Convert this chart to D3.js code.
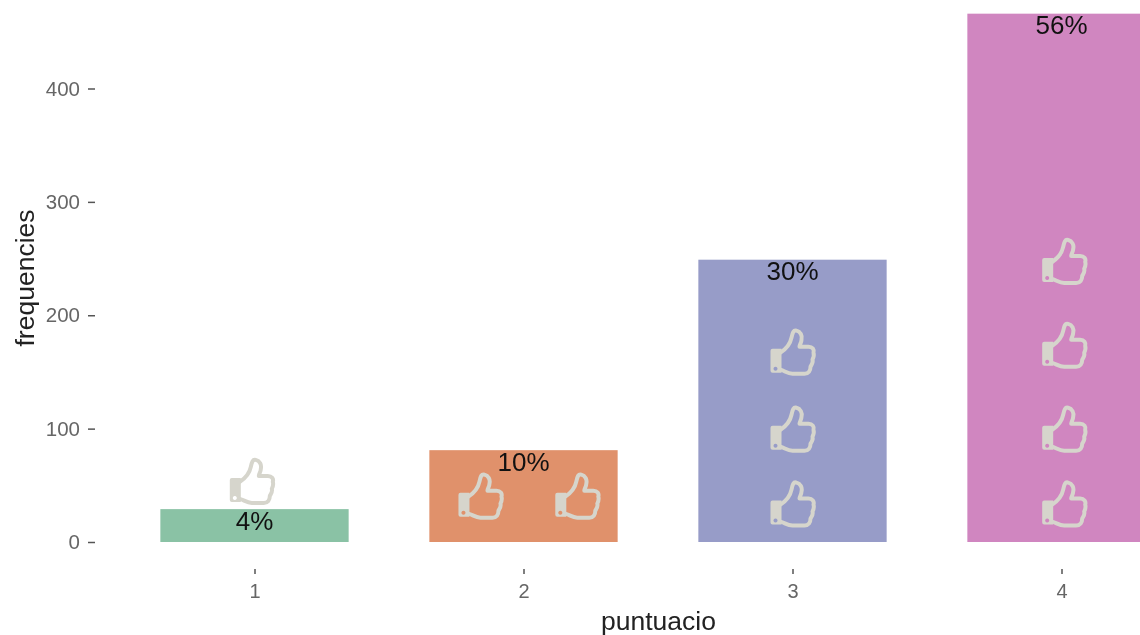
<!DOCTYPE html>
<html>
<head>
<meta charset="utf-8">
<script src="https://cdn.jsdelivr.net/npm/d3@7"></script>
<style>
    html, body { margin: 0; padding: 0; background: #fff; }
    svg { display: block; filter: blur(0.5px); }
    text { font-family: "Liberation Sans", Arial, sans-serif; }
</style>
</head>
<body>
<div id="chart"></div>
<script>
// Bars
const puntuacio = [1, 2, 3, 4];
const frequencies = [29, 81, 249, 466];
const percents = ['4%', '10%', '30%', '56%'];
const barColors = ['#8ac2a5', '#e0916b', '#979cc8', '#d086c0'];

// Thumb icons, in chart units
const thumbX = [0.99, 1.84, 2.2, 3, 3, 3, 4.01, 4.01, 4.01, 4.01];
const thumbY = [53, 40, 40, 167, 99, 33, 247, 173, 99, 33];

const yTicks = [0, 100, 200, 300, 400];

const width = 1140;
const height = 635;

const x = d3.scaleLinear().domain([1, 4]).range([254.5, 1061.5]);
const y = d3.scaleLinear().domain([0, 400]).range([542, 88.5]);
const barWidth = 0.7;

const svg = d3.select('#chart')
    .append('svg')
    .attr('width', width)
    .attr('height', height);

svg.selectAll('.bar')
    .data(puntuacio)
    .enter().append('rect')
    .attr('class', 'bar')
    .attr('x', d => x(d - barWidth / 2))
    .attr('y', (d, i) => y(frequencies[i]))
    .attr('width', x(1 + barWidth) - x(1))
    .attr('height', (d, i) => y(0) - y(frequencies[i]))
    .attr('fill', (d, i) => barColors[i]);

// Thumb outline plus cuff, drawn around 0,0. Hole in the cuff is evenodd
const thumbOutline = 'M-12,0 C-6,-4 -2,-10 -1,-15 C0,-20 1,-23 4,-22 C8,-21 10,-17 9,-13 C9,-10 7,-8 7,-6 L16,-6 C20,-6 22,-3 21,0 C22,3 21,5 20,7 C21,10 19,12 18,14 C18,18 16,21 12,21 L0,21 C-5,21 -8,18 -12,17';
const thumbCuff = 'M-20,-4 L-11,-4 L-11,20 L-20,20 Q-22,20 -22,18 L-22,-2 Q-22,-4 -20,-4 Z M-17,14 a2,2 0 1,0 0.01,0 Z';

const thumbs = svg.selectAll('.thumb')
    .data(thumbX)
    .enter().append('g')
    .attr('class', 'thumb')
    .attr('transform', (d, i) => `translate(${x(d)},${y(thumbY[i])})`);

thumbs.append('path')
    .attr('d', thumbOutline)
    .attr('fill', 'none')
    .attr('stroke', '#d6d5cc')
    .attr('stroke-width', 4)
    .attr('stroke-linecap', 'round')
    .attr('stroke-linejoin', 'round');

thumbs.append('path')
    .attr('d', thumbCuff)
    .attr('fill', '#d6d5cc')
    .attr('fill-rule', 'evenodd');

svg.selectAll('.pct')
    .data(percents)
    .enter().append('text')
    .attr('class', 'pct')
    .attr('x', (d, i) => x(puntuacio[i]))
    .attr('y', (d, i) => y(frequencies[i] - 10))
    .attr('dy', '0.36em')
    .attr('text-anchor', 'middle')
    .attr('font-size', 26)
    .attr('fill', '#111')
    .text(d => d);

// Axes
const yAxis = d3.axisLeft(y).tickValues(yTicks).tickSize(7).tickPadding(8);
svg.append('g')
    .attr('transform', 'translate(95,0)')
    .call(yAxis)
    .call(g => g.select('.domain').remove())
    .call(g => g.selectAll('.tick line').attr('stroke', '#555').attr('stroke-width', 1.5))
    .call(g => g.selectAll('.tick text').attr('font-size', 20.5).attr('fill', '#666').style('font-family', '"Liberation Sans", Arial, sans-serif'));

const xAxis = d3.axisBottom(x).tickValues(puntuacio).tickFormat(d3.format('d')).tickSize(5).tickPadding(10);
svg.append('g')
    .attr('transform', 'translate(0,569)')
    .call(xAxis)
    .call(g => g.select('.domain').remove())
    .call(g => g.selectAll('.tick line').attr('stroke', '#555').attr('stroke-width', 1.5))
    .call(g => g.selectAll('.tick text').attr('font-size', 20).attr('fill', '#666').style('font-family', '"Liberation Sans", Arial, sans-serif'));

svg.append('text')
    .attr('x', 658.5)
    .attr('y', 630)
    .attr('text-anchor', 'middle')
    .attr('font-size', 26.5)
    .attr('fill', '#222')
    .text('puntuacio');

svg.append('text')
    .attr('transform', 'translate(34,278) rotate(-90)')
    .attr('text-anchor', 'middle')
    .attr('font-size', 26.5)
    .attr('fill', '#222')
    .text('frequencies');
</script>
</body>
</html>
